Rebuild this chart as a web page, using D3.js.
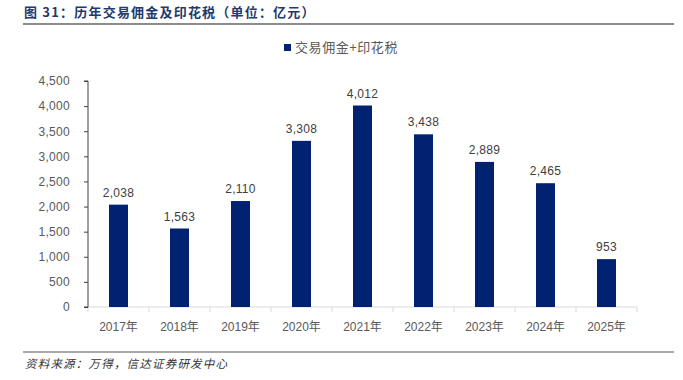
<!DOCTYPE html>
<html>
<head>
<meta charset="utf-8">
<script src="https://cdn.jsdelivr.net/npm/d3@7"></script>
<style>
  body { margin: 0; background: #fff; }
  text { font-family: "Liberation Sans", Arial, "Noto Sans CJK SC", sans-serif; }
</style>
</head>
<body>
<div id="chart"></div>
<script>
// data
var years = ["2017年", "2018年", "2019年", "2020年", "2021年", "2022年", "2023年", "2024年", "2025年"];
var values = [2038, 1563, 2110, 3308, 4012, 3438, 2889, 2465, 953];
var yTicks = [0, 500, 1000, 1500, 2000, 2500, 3000, 3500, 4000, 4500];
var seriesName = "交易佣金+印花税";
var titleText = "图 31：历年交易佣金及印花税（单位：亿元）";
var sourceText = "资料来源：万得，信达证券研发中心";

var W = 683, H = 380;
var margin = { top: 81, right: 46, bottom: 73, left: 88 },
    width = W - margin.left - margin.right,
    height = H - margin.top - margin.bottom;
var barColor = "#002270";

var svg = d3.select("#chart").append("svg")
    .attr("width", W)
    .attr("height", H);

// title + rules
svg.append("text")
    .attr("x", 24).attr("y", 17)
    .style("font-family", "'Noto Sans CJK SC', sans-serif")
    .style("font-size", "13px")
    .style("font-weight", "bold")
    .style("letter-spacing", "1.2px")
    .style("fill", "#1f3a6e")
    .text(titleText);
svg.append("line")
    .attr("x1", 23).attr("x2", 674).attr("y1", 24).attr("y2", 24)
    .attr("stroke", "#8c8c8c").attr("stroke-width", 2);
svg.append("line")
    .attr("x1", 23).attr("x2", 674).attr("y1", 352).attr("y2", 352)
    .attr("stroke", "#8c8c8c").attr("stroke-width", 1.5);
svg.append("text")
    .attr("x", 25).attr("y", 368)
    .style("font-family", "'Noto Sans CJK SC', sans-serif")
    .style("font-size", "11.5px")
    .style("font-style", "italic")
    .style("letter-spacing", "1.2px")
    .style("fill", "#333")
    .text(sourceText);

var g = svg.append("g")
    .attr("transform", "translate(" + margin.left + "," + margin.top + ")");

var x = d3.scaleBand().domain(years).range([0, width]);
var y = d3.scaleLinear().domain([0, 4500]).range([height, 0]);

// x axis: light baseline with ticks at the band edges
var xg = g.append("g").attr("transform", "translate(0," + height + ")");
xg.append("line")
    .attr("x1", 0).attr("x2", width)
    .attr("stroke", "#d9d9d9").attr("stroke-width", 1);
xg.selectAll(".xt")
    .data(d3.range(years.length + 1))
    .enter().append("line")
    .attr("x1", function (i) { return i < years.length ? x(years[i]) : width; })
    .attr("x2", function (i) { return i < years.length ? x(years[i]) : width; })
    .attr("y1", 0).attr("y2", 5)
    .attr("stroke", "#d9d9d9");
xg.selectAll(".xl")
    .data(years)
    .enter().append("text")
    .attr("x", function (d) { return x(d) + x.bandwidth() / 2; })
    .attr("y", 24)
    .attr("text-anchor", "middle")
    .style("font-family", "'Liberation Sans', 'Noto Sans CJK SC', sans-serif")
    .style("font-size", "12px")
    .style("fill", "#595959")
    .text(function (d) { return d; });

// y axis
var yAxis = d3.axisLeft(y).tickValues(yTicks).tickSize(4).tickPadding(14)
    .tickFormat(d3.format(","));
var yg = g.append("g").call(yAxis);
yg.select(".domain").attr("stroke", "#404040").attr("d", "M-4,0H0V" + height + "H-4");
yg.selectAll(".tick line").attr("stroke", "#404040");
yg.selectAll(".tick text")
    .style("font-size", "12px")
    .style("fill", "#595959")
    .style("letter-spacing", "0.3px");

// bars
var bw = 19;
g.selectAll(".bar")
    .data(values)
    .enter().append("rect")
    .attr("x", function (d, i) { return x(years[i]) + (x.bandwidth() - bw) / 2; })
    .attr("y", function (d) { return y(d); })
    .attr("width", bw)
    .attr("height", function (d) { return height - y(d); })
    .attr("fill", barColor);

// value labels
g.selectAll(".val")
    .data(values)
    .enter().append("text")
    .attr("x", function (d, i) { return x(years[i]) + x.bandwidth() / 2; })
    .attr("y", function (d) { return y(d) - 8; })
    .attr("text-anchor", "middle")
    .style("font-size", "12px")
    .style("fill", "#404040")
    .style("letter-spacing", "0.3px")
    .text(function (d) { return d3.format(",")(d); });

// legend
svg.append("rect")
    .attr("x", 284).attr("y", 44).attr("width", 7).attr("height", 7)
    .attr("fill", barColor);
svg.append("text")
    .attr("x", 295).attr("y", 52)
    .style("font-family", "'Noto Sans CJK SC', sans-serif")
    .style("font-size", "13px")
    .style("letter-spacing", "0.6px")
    .style("fill", "#595959")
    .text(seriesName);
</script>
</body>
</html>
